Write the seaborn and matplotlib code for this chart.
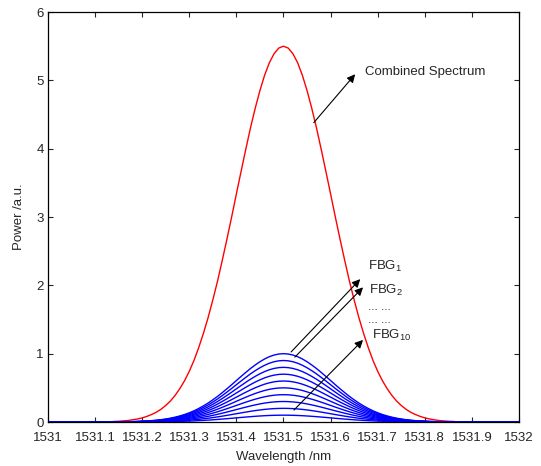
import numpy as np
import pandas as pd
import seaborn as sns
import matplotlib
matplotlib.use("Agg")
import matplotlib.pyplot as plt

sns.set_style("ticks", {'xtick.direction': 'in', 'ytick.direction': 'in',
                        'axes.edgecolor': 'black'})
plt.rcParams['font.family'] = ['Liberation Sans', 'DejaVu Sans']
plt.rcParams['mathtext.default'] = 'regular'

# wavelength grid (nm) over which the spectra were read
wavelength = np.round(np.arange(1531.0, 1532.0001, 0.01), 2)

# normalised FBG reflection profile, 1531.14 .. 1531.86 nm
profile_core = [0.0015, 0.002, 0.003, 0.004, 0.006, 0.008, 0.011, 0.015, 0.020, 0.026,
                0.034, 0.044, 0.056, 0.071, 0.089, 0.110, 0.135, 0.164, 0.198, 0.236,
                0.278, 0.325, 0.375, 0.430, 0.487, 0.546, 0.607, 0.667, 0.726, 0.783,
                0.835, 0.882, 0.923, 0.956, 0.980, 0.995, 1.000, 0.995, 0.980, 0.956,
                0.923, 0.882, 0.835, 0.783, 0.726, 0.667, 0.607, 0.546, 0.487, 0.430,
                0.375, 0.325, 0.278, 0.236, 0.198, 0.164, 0.135, 0.110, 0.089, 0.071,
                0.056, 0.044, 0.034, 0.026, 0.020, 0.015, 0.011, 0.008, 0.006, 0.004,
                0.003, 0.002, 0.0015]
profile = np.zeros(len(wavelength))
profile[14:14 + len(profile_core)] = profile_core

# peak power of each grating FBG1 .. FBG10
fbg_peaks = [1.0, 0.9, 0.8, 0.7, 0.6, 0.5, 0.4, 0.3, 0.2, 0.1]

fbg = pd.DataFrame({"wavelength": np.tile(wavelength, len(fbg_peaks)),
                    "power": np.concatenate([p * profile for p in fbg_peaks]),
                    "fbg": np.repeat(range(1, len(fbg_peaks) + 1), len(wavelength))})
combined = fbg.groupby("wavelength", as_index=False)["power"].sum()

fs = 9.5
fig = plt.figure(figsize=(5.41, 4.66), dpi=100)
ax = fig.add_axes([0.0887, 0.0944, 0.8706, 0.8798])

sns.lineplot(data=combined, x="wavelength", y="power", color="red", lw=1, ax=ax)
for k, grp in fbg.groupby("fbg"):
    sns.lineplot(data=grp, x="wavelength", y="power", color="blue", lw=1, ax=ax)

ax.set_xlim(1531, 1532)
ax.set_ylim(0, 6)
xt = np.round(np.arange(1531.0, 1532.0001, 0.1), 1)
ax.set_xticks(xt)
ax.set_xticklabels(["%g" % t for t in xt])
ax.set_yticks(range(7))
ax.tick_params(direction='in', top=True, right=True, labelsize=fs, length=3.6, width=0.8)
ax.tick_params(axis='x', pad=7)
ax.tick_params(axis='y', pad=3)
for s in ax.spines.values():
    s.set_linewidth(0.9)
ax.set_xlabel("Wavelength /nm", fontsize=fs, labelpad=5)
ax.set_ylabel("Power /a.u.", fontsize=fs, labelpad=8)

arrow = dict(arrowstyle="-|>", color="black", lw=0.8, mutation_scale=12)
ax.annotate("", xy=(1531.656, 5.12), xytext=(1531.5605, 4.35), arrowprops=arrow)
ax.text(1531.673, 5.12, "Combined Spectrum", fontsize=fs, va="center", ha="left")

ax.annotate("", xy=(1531.667, 2.12), xytext=(1531.512, 0.995), arrowprops=arrow)
ax.annotate("", xy=(1531.673, 2.00), xytext=(1531.520, 0.92), arrowprops=arrow)
ax.annotate("", xy=(1531.673, 1.23), xytext=(1531.518, 0.146), arrowprops=arrow)
ax.text(1531.679, 2.27, r"FBG$_{1}$", fontsize=fs, va="center", ha="left")
ax.text(1531.682, 1.93, r"FBG$_{2}$", fontsize=fs, va="center", ha="left")
ax.text(1531.679, 1.68, "... ...", fontsize=8.5, va="center", ha="left")
ax.text(1531.679, 1.50, "... ...", fontsize=8.5, va="center", ha="left")
ax.text(1531.688, 1.27, r"FBG$_{10}$", fontsize=fs, va="center", ha="left")

plt.savefig("out.png", dpi=100)
